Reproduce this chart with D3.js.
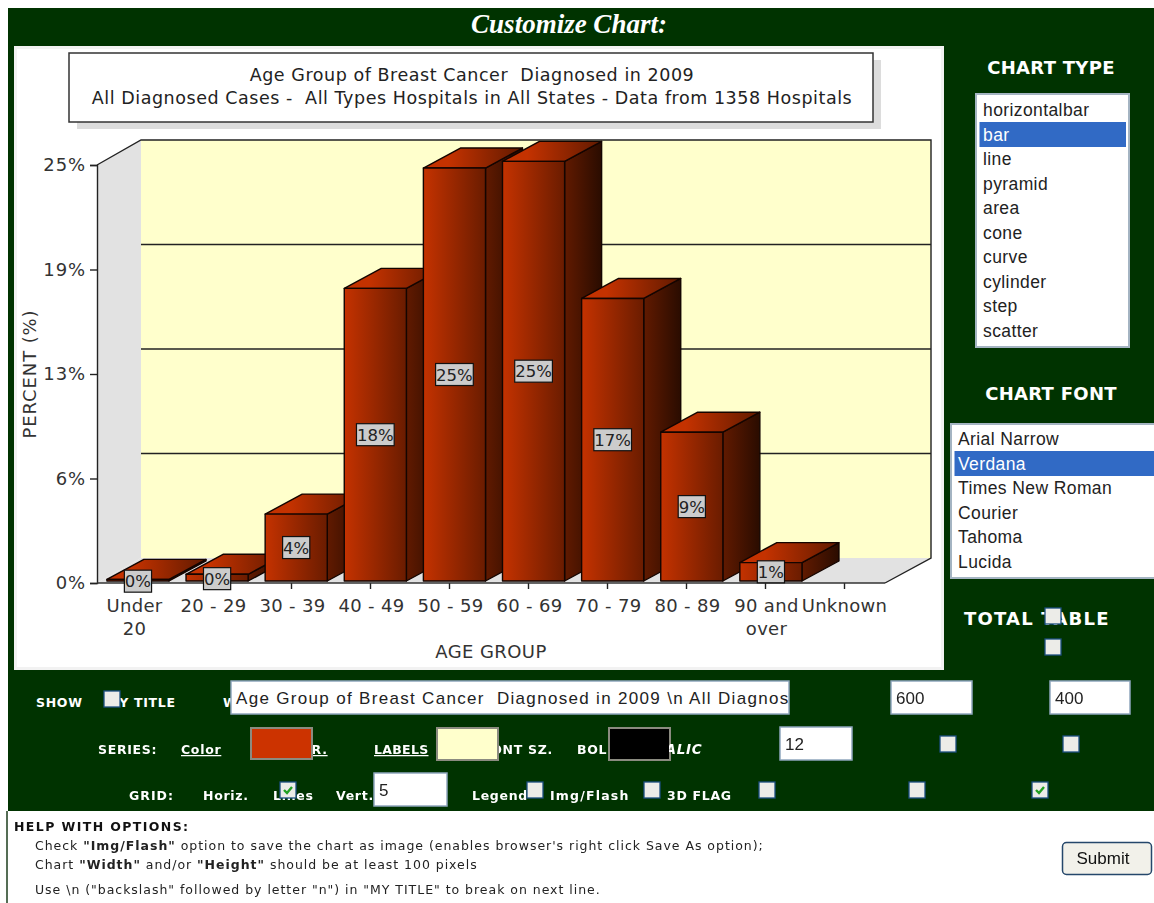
<!DOCTYPE html>
<html>
<head>
<meta charset="utf-8">
<script src="https://cdn.jsdelivr.net/npm/d3@7"></script>
<style>
    body { margin: 0; background: #fff; overflow: hidden; }
    svg { display: block; filter: blur(0.5px); }
    text { white-space: pre; }
</style>
</head>
<body>
<div id="chart"></div>
<script>
const ageGroups = [["Under", "20"], ["20 - 29"], ["30 - 39"], ["40 - 49"], ["50 - 59"], ["60 - 69"], ["70 - 79"], ["80 - 89"], ["90 and", "over"], ["Unknown"]];
const percentValues = [0.1, 0.4, 4.0, 17.5, 24.7, 25.1, 16.9, 8.9, 1.1, null];
const yTicks = [0, 6.25, 12.5, 18.75, 25];
const chartTitle = ["Age Group of Breast Cancer  Diagnosed in 2009", "All Diagnosed Cases -  All Types Hospitals in All States - Data from 1358 Hospitals"];
const chartTypes = ["horizontalbar", "bar", "line", "pyramid", "area", "cone", "curve", "cylinder", "step", "scatter"];
const chartFonts = ["Arial Narrow", "Verdana", "Times New Roman", "Courier", "Tahoma", "Lucida"];
const helpLines = [
    [35, 846, "Check ", "\"Img/Flash\"", " option to save the chart as image (enables browser's right click Save As option);"],
    [35, 865, "Chart ", "\"Width\"", " and/or ", "\"Height\"", " should be at least 100 pixels"],
    [35, 890, "Use \\n (\"backslash\" followed by letter \"n\") in \"MY TITLE\" to break on next line."]
];

const GREEN = "#003300", VERDANA = "'DejaVu Sans', Verdana, sans-serif", ARIAL = "'Liberation Sans', Arial, sans-serif";

const svg = d3.select("#chart").append("svg").attr("width", 1154).attr("height", 903);
const defs = svg.append("defs");

function addGradient(id, from, to, startAt = 0) {
    const g = defs.append("linearGradient").attr("id", id);
    g.append("stop").attr("offset", startAt + "%").attr("stop-color", from);
    g.append("stop").attr("offset", "100%").attr("stop-color", to);
}
addGradient("frontGrad", "#c43200", "#6a1c00");
addGradient("topGrad", "#c43200", "#611a00", 25);
addGradient("sideGrad", "#611a00", "#2a0c00");

function label(g, x, y, str, opts = {}) {
    return g.append("text").attr("x", x).attr("y", y).text(str)
        .attr("font-family", opts.family || VERDANA)
        .attr("font-size", opts.size || 12.5)
        .attr("font-weight", opts.weight || "normal")
        .attr("font-style", opts.style || "normal")
        .attr("letter-spacing", opts.spacing || 0)
        .attr("text-decoration", opts.deco || "none")
        .attr("text-anchor", opts.anchor || "start")
        .attr("fill", opts.fill || "#fff");
}
const formBold = { size: 12.5, weight: "bold", spacing: 0.7 };

// page background
svg.append("rect").attr("x", 8).attr("y", 8).attr("width", 1146).attr("height", 803).attr("fill", GREEN);
svg.append("line").attr("x1", 7).attr("x2", 7).attr("y1", 811).attr("y2", 903).attr("stroke", "#1c3c1c").attr("stroke-width", 1.5);
label(svg, 569, 33, "Customize Chart:", { family: "'Liberation Serif', serif", size: 27, weight: "bold", style: "italic", anchor: "middle" });

// chart panel
svg.append("rect").attr("x", 15.5).attr("y", 47.5).attr("width", 927).attr("height", 621).attr("fill", "#fff").attr("stroke", "#f2f2f2").attr("stroke-width", 3);
svg.append("rect").attr("x", 77).attr("y", 60).attr("width", 804).attr("height", 69).attr("fill", "#dcdcdc");
svg.append("rect").attr("x", 69).attr("y", 53).attr("width", 804).attr("height", 69).attr("fill", "#fff").attr("stroke", "#333").attr("stroke-width", 1.5);
chartTitle.forEach((t, i) => label(svg, 472, 81 + i * 23, t, { size: 17.5, spacing: 0.55, anchor: "middle", fill: "#222" }));

// scales
const wall = { dx: 44, dy: -25 };
const barDepth = { dx: 37, dy: -20 };
const y = d3.scaleLinear().domain([0, 25]).range([583, 165]);
const x = d3.scaleBand().domain(d3.range(ageGroups.length)).range([94, 884]);
const barX = d3.scaleBand().domain(d3.range(ageGroups.length)).range([99, 889]).paddingInner(0.215).paddingOuter(0.1);

const plot = svg.append("g");
const backLeft = 97 + wall.dx, backRight = 931;

// walls and floor
plot.append("rect").attr("x", backLeft).attr("y", y(25) + wall.dy).attr("width", backRight - backLeft).attr("height", y(0) - y(25)).attr("fill", "#ffffcc");
plot.append("polygon").attr("fill", "#e2e2e2")
    .attr("points", [[97, y(25)], [backLeft, y(25) + wall.dy], [backLeft, y(0) + wall.dy], [97, y(0)]].join(" "));
plot.append("polygon").attr("fill", "#e2e2e2")
    .attr("points", [[97, y(0)], [backLeft, y(0) + wall.dy], [backRight, y(0) + wall.dy], [885, y(0)]].join(" "));

// grid lines
plot.selectAll(".grid").data(yTicks.slice(1, 4)).enter().append("line")
    .attr("class", "grid")
    .attr("x1", backLeft).attr("x2", backRight)
    .attr("y1", d => y(d) + wall.dy).attr("y2", d => y(d) + wall.dy)
    .attr("stroke", "#222").attr("stroke-width", 1.3);

// outer frame of the plot
plot.append("path").attr("fill", "none").attr("stroke", "#222").attr("stroke-width", 1.4)
    .attr("d", `M97,${y(25)}L${backLeft},${y(25) + wall.dy}H${backRight}V${y(0) + wall.dy}L885,${y(0)}`);

// axes
const yAxis = plot.append("g").attr("transform", "translate(97,0)")
    .call(d3.axisLeft(y).tickValues(yTicks).tickSize(7).tickPadding(4).tickFormat(d => Math.round(d) + "%"));
yAxis.selectAll("text").attr("font-family", VERDANA).attr("font-size", 18).attr("letter-spacing", 0.9).attr("fill", "#333");
yAxis.selectAll("line, path").attr("stroke", "#222").attr("stroke-width", 1.4);

const xAxis = plot.append("g").attr("transform", `translate(0,${y(0)})`)
    .call(d3.axisBottom(x).tickSize(6).tickFormat(""));
xAxis.select(".domain").remove();
xAxis.selectAll("line").attr("stroke", "#222").attr("stroke-width", 1.4);
plot.append("line").attr("x1", 97).attr("x2", 885).attr("y1", y(0)).attr("y2", y(0)).attr("stroke", "#333").attr("stroke-width", 1.6);

ageGroups.forEach((lines, i) => {
    lines.forEach((t, j) => label(plot, x(i) + x.bandwidth() / 2 + (i === 9 ? 0 : 1), 612 + j * 23, t, { size: 18, spacing: 0.3, anchor: "middle", fill: "#333" }));
});
label(plot, 491, 658, "AGE GROUP", { size: 18, spacing: 0.4, anchor: "middle", fill: "#333" });
label(plot, 0, 0, "PERCENT (%)", { size: 18, spacing: 0.9, anchor: "middle", fill: "#333" })
    .attr("transform", "translate(36,374) rotate(-90)");

// bars
const barData = percentValues.map((v, i) => ({ i, v })).filter(d => d.v !== null);
const baseY = y(0) - 2;
const barH = d => y(0) - y(d.v);
const bars = plot.selectAll(".bar").data(barData).enter().append("g").attr("class", "bar");
const edge = sel => sel.attr("stroke", "#140500").attr("stroke-width", 1.4).attr("stroke-linejoin", "round");

bars.append("polygon").call(edge).attr("fill", "url(#sideGrad)").attr("points", d => {
    const r = barX(d.i) + barX.bandwidth();
    return [[r, baseY], [r + barDepth.dx, baseY + barDepth.dy], [r + barDepth.dx, baseY - barH(d) + barDepth.dy], [r, baseY - barH(d)]].join(" ");
});
bars.append("polygon").call(edge).attr("fill", "url(#topGrad)").attr("points", d => {
    const l = barX(d.i), r = l + barX.bandwidth(), t = baseY - barH(d);
    return [[l, t], [l + barDepth.dx, t + barDepth.dy], [r + barDepth.dx, t + barDepth.dy], [r, t]].join(" ");
});
bars.append("rect").call(edge).attr("fill", "url(#frontGrad)")
    .attr("x", d => barX(d.i)).attr("y", d => baseY - barH(d))
    .attr("width", barX.bandwidth()).attr("height", d => barH(d));

// value labels
const valueLabels = plot.selectAll(".value").data(barData).enter().append("g").attr("class", "value");
valueLabels.each(function (d) {
    const g = d3.select(this);
    const cx = barX(d.i) + barX.bandwidth() / 2;
    const cy = baseY - barH(d) / 2 + (d.v < 1 ? 1 : 0);
    const box = g.append("rect").attr("fill", "#cccccc").attr("stroke", "#111").attr("stroke-width", 1.2);
    const t = label(g, cx, cy + 6, Math.round(d.v) + "%", { size: 16.5, anchor: "middle", fill: "#222" });
    const w = t.node().getComputedTextLength() + 1;
    box.attr("x", cx - w / 2).attr("y", cy - 11).attr("width", w).attr("height", 22);
});

// form widgets
function inputBox(px, py, w, h, str, opts = {}) {
    svg.append("rect").attr("x", px).attr("y", py).attr("width", w).attr("height", h)
        .attr("fill", opts.fill || "#fff").attr("stroke", opts.stroke || "#8fa6bd").attr("stroke-width", 1.5);
    if (str) label(svg, px + 5, py + h / 2 + 6, str, { family: ARIAL, size: 17, fill: "#222", spacing: opts.spacing || 0 });
}
function checkbox(cx, cy, checked) {
    svg.append("rect").attr("x", cx - 8).attr("y", cy - 8).attr("width", 16).attr("height", 16)
        .attr("fill", "#ecece8").attr("stroke", "#1c4f80").attr("stroke-width", 1.3);
    if (checked) svg.append("path").attr("d", `M${cx - 4},${cy}l3,3l5,-6`).attr("fill", "none").attr("stroke", "#22a022").attr("stroke-width", 2.4);
}
function swatch(px, py, w, h, fill) {
    svg.append("rect").attr("x", px).attr("y", py).attr("width", w).attr("height", h)
        .attr("fill", fill).attr("stroke", "#8b8b80").attr("stroke-width", 2);
}
function listBox(px, py, w, h, items, selected, firstY, stepY) {
    svg.append("rect").attr("x", px).attr("y", py).attr("width", w).attr("height", h)
        .attr("fill", "#fff").attr("stroke", "#a4b4c2").attr("stroke-width", 2);
    items.forEach((t, i) => {
        const ty = firstY + i * stepY;
        if (i === selected) svg.append("rect").attr("x", px + 3.5).attr("y", ty - 12.5).attr("width", w - 6.5).attr("height", 25).attr("fill", "#316ac5");
        label(svg, px + 7, ty + 6, t, { family: ARIAL, size: 17.5, spacing: 0.4, fill: i === selected ? "#fff" : "#222" });
    });
}

label(svg, 1051, 74, "CHART TYPE", { size: 18, weight: "bold", spacing: 0.3, anchor: "middle" });
listBox(976, 94, 153, 253, chartTypes, 1, 110, 24.5);
label(svg, 1051, 400, "CHART FONT", { size: 18, weight: "bold", spacing: 0.3, anchor: "middle" });
listBox(951, 424, 220, 154, chartFonts, 1, 439, 24.5);
label(svg, 964, 625, "TOTAL TABLE", { size: 18, weight: "bold", spacing: 1.2 });
checkbox(1053, 616);
checkbox(1053, 647);

// row 1
label(svg, 36, 707, "SHOW", formBold);
label(svg, 106, 707, "MY TITLE", formBold);
checkbox(112, 699);
label(svg, 223, 707, "W", formBold);
inputBox(231, 681, 558, 33, "");
// title input clips its text like the real field
defs.append("clipPath").attr("id", "inputClip").append("rect").attr("x", 232).attr("y", 681).attr("width", 556).attr("height", 33);
label(svg, 236, 703.5, "Age Group of Breast Cancer  Diagnosed in 2009 \\n All Diagnos", { family: ARIAL, size: 17, fill: "#222", spacing: 1.32 })
    .attr("clip-path", "url(#inputClip)");
inputBox(891, 681, 81, 33, "600");
inputBox(1050, 681, 80, 33, "400");

// row 2
label(svg, 98, 754, "SERIES:", formBold);
label(svg, 181, 754, "Color", { ...formBold, deco: "underline" });
label(svg, 291, 754, "BAR.", { ...formBold, deco: "underline" });
swatch(251, 728, 61, 31, "#cc3300");
label(svg, 374, 754, "LABELS", { ...formBold, spacing: 0.3, deco: "underline" });
label(svg, 482, 754, "FONT SZ.", formBold);
swatch(437, 728, 61, 32, "#ffffcc");
label(svg, 577, 754, "BOLD", formBold);
swatch(609, 728, 61, 32, "#000");
label(svg, 651, 754, "ITALIC", { ...formBold, style: "italic", size: 13.5 });
svg.append("rect").attr("x", 610).attr("y", 729).attr("width", 59).attr("height", 30).attr("fill", "#000");
inputBox(780, 727, 72, 33, "12");
checkbox(948, 744);
checkbox(1071, 744);

// row 3
label(svg, 129, 800, "GRID:", { ...formBold, spacing: 1 });
label(svg, 203, 800, "Horiz.", formBold);
label(svg, 273, 800, "Lines", formBold);
checkbox(288, 790, true);
label(svg, 336, 800, "Vert.", formBold);
inputBox(374, 773, 73, 33, "5");
label(svg, 472, 800, "Legend", formBold);
checkbox(535, 790);
label(svg, 550, 800, "Img/Flash", { ...formBold, spacing: 1.2 });
checkbox(652, 790);
label(svg, 667, 800, "3D FLAG", formBold);
checkbox(767, 790);
checkbox(917, 790);
checkbox(1040, 790, true);

// help section
label(svg, 14, 831, "HELP WITH OPTIONS:", { size: 12.5, weight: "bold", fill: "#111", spacing: 1.4 });
helpLines.forEach(line => {
    const t = label(svg, line[0], line[1] + 4, "", { size: 12.5, spacing: 0.97, fill: "#222" });
    line.slice(2).forEach((s, i) => t.append("tspan").text(s).attr("font-weight", i % 2 ? "bold" : "normal"));
});
svg.append("rect").attr("x", 1062.5).attr("y", 842.5).attr("width", 89).attr("height", 32).attr("rx", 4)
    .attr("fill", "#f2f1ea").attr("stroke", "#25476b").attr("stroke-width", 1.5);
label(svg, 1103, 864, "Submit", { family: ARIAL, size: 17, anchor: "middle", fill: "#111" });
</script>
</body>
</html>
